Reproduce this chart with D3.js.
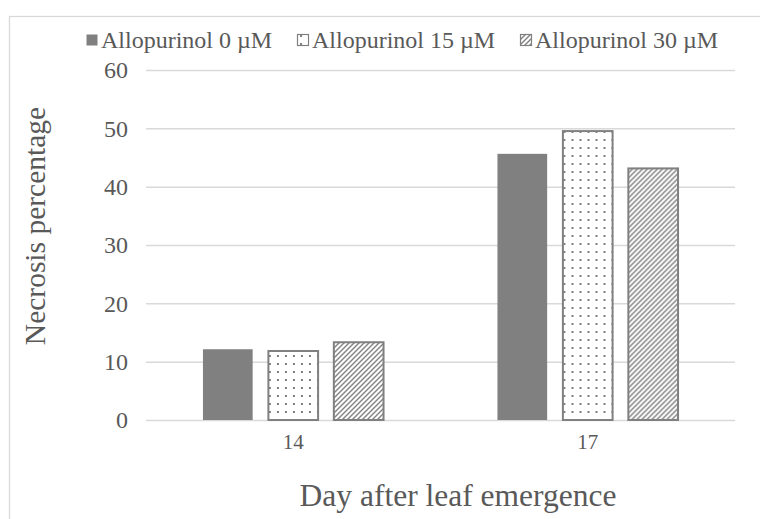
<!DOCTYPE html>
<html><head><meta charset="utf-8">
<script src="https://cdn.jsdelivr.net/npm/d3@7"></script>
<style>body{margin:0;background:#fff}svg{display:block}text{font-family:"Liberation Serif","Times New Roman",serif;fill:#595959}</style>
</head><body><svg id="c" width="760" height="519"></svg>
<script>
const categories = ["14", "17"];
const seriesNames = ["Allopurinol 0 µM", "Allopurinol 15 µM", "Allopurinol 30 µM"];
const values0 = [12.3, 45.8];
const values15 = [12.0, 49.7];
const values30 = [13.5, 43.3];
const yTicks = [0, 10, 20, 30, 40, 50, 60];
const xTitle = "Day after leaf emergence";
const yTitle = "Necrosis percentage";

(function(){
const seriesValues = [values0, values15, values30];
const svg = d3.select("#c");
const gray = "#808080";

const defs = svg.append("defs");
const dots = defs.append("pattern").attr("id","dots").attr("patternUnits","userSpaceOnUse")
  .attr("width",8).attr("height",8);
dots.append("rect").attr("width",8).attr("height",8).attr("fill","#fff");
dots.append("rect").attr("x",3).attr("y",3).attr("width",2).attr("height",2).attr("fill",gray);
const hatch = defs.append("pattern").attr("id","hatch").attr("patternUnits","userSpaceOnUse")
  .attr("width",5).attr("height",5);
hatch.append("rect").attr("width",5).attr("height",5).attr("fill","#fff");
hatch.append("path").attr("d","M-1,6 L6,-1 M-1,1 L1,-1 M4,6 L6,4").attr("stroke",gray).attr("stroke-width",1.4);

const fills = [gray, "url(#dots)", "url(#hatch)"];

// chart border
svg.append("rect").attr("x",9.5).attr("y",16.5).attr("width",800).attr("height",600)
  .attr("fill","none").attr("stroke","#d9d9d9").attr("stroke-width",1.3);

const pLeft = 146, pRight = 735, pTop = 70, pBottom = 420;
const y = d3.scaleLinear().domain([0,60]).range([pBottom, pTop]);
const x0 = d3.scaleBand().domain(categories).range([pLeft,pRight]).paddingInner(0.38).paddingOuter(0.19);
const x1 = d3.scaleBand().domain(d3.range(3)).range([0,x0.bandwidth()]).paddingInner(0.21).paddingOuter(0);

// gridlines
const yAxis = d3.axisLeft(y).tickValues(yTicks).tickSize(-(pRight-pLeft)).tickPadding(20);
const gy = svg.append("g").attr("transform",`translate(${pLeft},0)`).call(yAxis);
gy.select(".domain").remove();
gy.selectAll(".tick line").attr("stroke","#d9d9d9").attr("stroke-width",1.5);
gy.selectAll(".tick text").attr("font-size",24).attr("font-family","Liberation Serif").attr("fill","#595959").attr("dx",2);

// bars
const groups = svg.append("g").selectAll("g").data(categories).join("g")
  .attr("transform", d => `translate(${x0(d)},0)`);
groups.selectAll("rect").data((d,i) => seriesValues.map((v,s) => ({s, v: v[i]}))).join("rect")
  .attr("x", d => x1(d.s) + 1)
  .attr("width", x1.bandwidth() - 2)
  .attr("y", d => y(d.v) + 1)
  .attr("height", d => y(0) - y(d.v) - 1)
  .attr("fill", d => fills[d.s])
  .attr("stroke", gray)
  .attr("stroke-width", d => d.s === 0 ? 0 : 2);

// x axis labels
const xAxis = d3.axisBottom(x0).tickSize(0).tickPadding(14);
const gx = svg.append("g").attr("transform",`translate(0,${pBottom})`).call(xAxis);
gx.select(".domain").remove();
gx.selectAll(".tick text").attr("font-size",21).attr("font-family","Liberation Serif").attr("fill","#595959");

// axis titles
svg.append("text").attr("x", 458).attr("y", 506).attr("text-anchor","middle")
  .attr("font-size",31.5).text(xTitle);
svg.append("text").attr("transform","translate(45,226) rotate(-90)").attr("text-anchor","middle")
  .attr("font-size",29.5).text(yTitle);

// legend
const legendX = [86, 297, 520];
const lg = svg.append("g").selectAll("g").data(seriesNames).join("g")
  .attr("transform",(d,i)=>`translate(${legendX[i]},0)`);
lg.append("rect").attr("x",0.5).attr("y",34.5).attr("width",11).attr("height",11)
  .attr("fill",(d,i)=>fills[i]).attr("stroke",gray).attr("stroke-width",(d,i)=> i===0?0:1.2);
lg.append("text").attr("x",15).attr("y",48).attr("font-size",24).text(d=>d);
})();
</script></body></html>
